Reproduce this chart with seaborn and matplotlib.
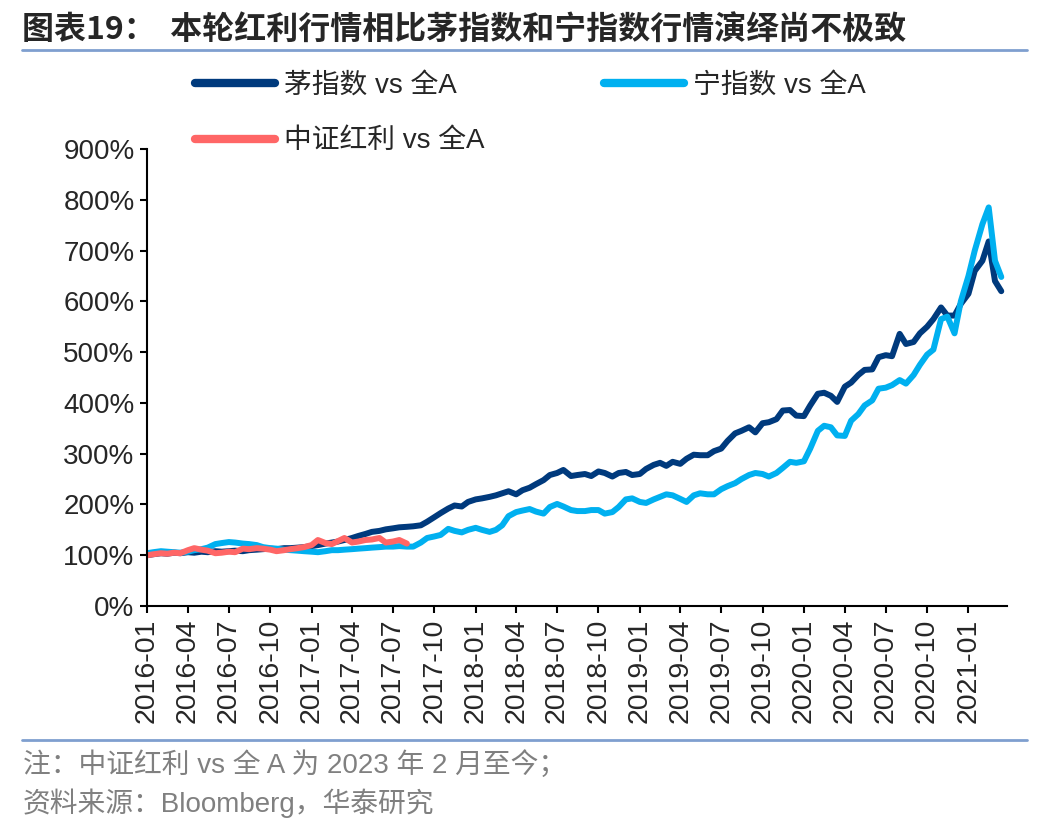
import pandas as pd
import numpy as np
import seaborn as sns
import matplotlib.pyplot as plt
import matplotlib.dates as mdates
from matplotlib.lines import Line2D

# semi-monthly grid, 2016-01 .. 2021-03
dates = pd.date_range('2016-01-01', periods=126, freq='SMS')

mao_vs_a = [
    100, 102, 104, 103, 105, 104, 106, 105, 107, 106, 108, 107,
    108, 109, 108, 110, 111, 112, 113, 112, 114, 114, 115, 116,
    118, 120, 123, 125, 127, 130, 134, 138, 142, 146, 148, 151,
    153, 155, 156, 157, 159, 166, 175, 183, 192, 198, 196, 205,
    210, 212, 215, 218, 222, 226, 220, 228, 233, 240, 248, 258,
    262, 268, 256, 258, 260, 256, 265, 262, 255, 262, 264, 258,
    260, 270, 278, 282, 276, 284, 280, 290, 298, 297, 297, 305,
    310, 325, 340, 345, 352, 342, 360, 362, 368, 385, 386, 375,
    374, 395, 418, 420, 414, 402, 432, 440, 455, 465, 466, 490,
    494, 492, 536, 516, 520, 537, 550, 565, 588, 572, 572, 595,
    615, 660, 680, 718, 640, 620,
]

ning_vs_a = [
    104, 106, 108, 107, 106, 105, 107, 110, 112, 115, 122, 124,
    126, 125, 123, 122, 120, 116, 114, 113, 111, 110, 109, 108,
    107, 106, 108, 110, 110, 111, 112, 113, 114, 115, 116, 117,
    117, 118, 117, 117, 125, 134, 137, 140, 152, 148, 145, 150,
    154, 150, 146, 150, 159, 177, 185, 188, 191, 186, 182, 195,
    201, 196, 189, 187, 187, 189, 189, 182, 185, 195, 210, 212,
    205, 203, 210, 215, 220, 218, 211, 205, 218, 222, 220, 220,
    230, 236, 242, 250, 258, 262, 260, 255, 262, 272, 284, 282,
    285, 310, 345, 355, 352, 336, 335, 365, 378, 395, 405, 428,
    430, 435, 445, 438, 455, 475, 495, 505, 565, 570, 537, 600,
    650, 700, 752, 785, 680, 648,
]

# 中证红利 vs 全A (from 2023-02, aligned on the same day count)
hongli_vs_a = [
    100, 102, 104, 103, 105, 104, 110, 114, 111, 109, 104, 105,
    107, 106, 113, 112, 114, 113, 111, 108, 110, 112, 114, 116,
    120, 130, 124, 122, 128, 134, 125, 127, 130, 131, 134, 125,
    127, 130, 123,
]

labels = ['茅指数 vs 全A', '宁指数 vs 全A', '中证红利 vs 全A']
colors = ['#003A7D', '#00B0F0', '#FF6666']

sns.set_theme(style='white')
plt.rcParams['font.family'] = ['Liberation Sans', 'Noto Sans CJK SC']

fig = plt.figure(figsize=(10.48, 8.32), dpi=100)
ax = fig.add_axes([0.1403, 0.2716, 0.8207, 0.5493])

sns.lineplot(x=dates, y=mao_vs_a, color=colors[0], lw=4.3, ax=ax)
sns.lineplot(x=dates, y=ning_vs_a, color=colors[1], lw=4.3, ax=ax)
sns.lineplot(x=dates[:len(hongli_vs_a)], y=hongli_vs_a, color=colors[2], lw=4.3, ax=ax)

ax.set_xlim(pd.Timestamp('2016-01-01'), pd.Timestamp('2021-03-28'))
ax.set_ylim(0, 900)
ax.set_yticks(range(0, 901, 100))
ax.set_yticklabels([f'{v}%' for v in range(0, 901, 100)], fontsize=20)
ax.xaxis.set_major_locator(mdates.MonthLocator(bymonth=[1, 4, 7, 10]))
ax.xaxis.set_major_formatter(mdates.DateFormatter('%Y-%m'))
plt.setp(ax.get_xticklabels(), rotation=90, fontsize=20.5)
ax.set_xlabel('')
ax.set_ylabel('')
ax.tick_params(axis='both', direction='out', length=5, width=1.5, color='black',
               bottom=True, left=True, pad=4)
for s in ['top', 'right']:
    ax.spines[s].set_visible(False)
for s in ['left', 'bottom']:
    ax.spines[s].set_color('black')
    ax.spines[s].set_linewidth(1.5)
ax.grid(False)

handles = [Line2D([], [], color=c, lw=6, solid_capstyle='round') for c in colors]
order = [0, 2, 1]
fig.legend([handles[i] for i in order], [labels[i] for i in order],
           loc='upper left', bbox_to_anchor=(0.186, 0.913), ncol=2,
           frameon=False, fontsize=20, handlelength=2.9, handletextpad=0.3,
           columnspacing=4.3, labelspacing=1.08, borderpad=0, borderaxespad=0)

# title and rules
fig.text(0.021, 0.964, '图表19：  本轮红利行情相比茅指数和宁指数行情演绎尚不极致',
         fontsize=23, fontweight='bold', va='center', ha='left',
         family=['Noto Sans CJK SC'])
fig.add_artist(Line2D([0.021, 0.98], [0.94, 0.94], color='#7F9FCF', lw=2))
fig.add_artist(Line2D([0.021, 0.98], [0.111, 0.111], color='#7F9FCF', lw=2))

fig.text(0.022, 0.08, '注：中证红利 vs 全 A 为 2023 年 2 月至今；', fontsize=20,
         color='#808080', va='center', ha='left')
fig.text(0.022, 0.035, '资料来源：Bloomberg，华泰研究', fontsize=20,
         color='#808080', va='center', ha='left')

fig.savefig('out.png', dpi=100, facecolor='white')
